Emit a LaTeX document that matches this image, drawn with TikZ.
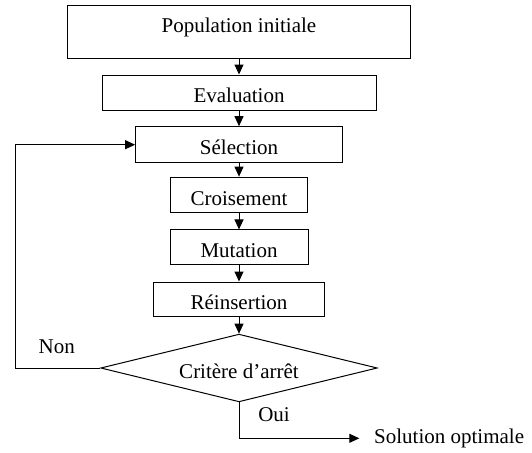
\documentclass[tikz,border=0pt]{standalone}
\usepackage{fontspec}
\setmainfont{Liberation Serif}
\usepackage{tikz}
\usetikzlibrary{arrows.meta,shapes.geometric}

\begin{document}
\begin{tikzpicture}[
  x=1pt,y=-1pt,
  every node/.style={font=\fontsize{21}{24}\selectfont},
  box/.style={rectangle,draw,line width=1pt,inner sep=0pt,text height=20pt,text depth=0pt},
  test/.style={diamond,draw,line width=1pt,aspect=4,inner sep=1pt,text height=20pt,text depth=0pt,minimum width=276.6pt,minimum height=67.7pt},
  lbl/.style={inner sep=0pt,text height=14pt,text depth=4pt},
  arr/.style={-{Triangle[length=10pt,width=9pt]},line width=1pt}
]
\useasboundingbox (0,0) rectangle (532,452);
\node[box,minimum width=343.3pt,minimum height=52.6pt,text height=14pt,text depth=12pt] (pop) at (239,32) {Population initiale};
\node[box,minimum width=274pt,minimum height=35pt] (eval) at (239,92.5) {Evaluation};
\node[box,minimum width=206.7pt,minimum height=36pt] (sel) at (239,144.7) {Sélection};
\node[box,minimum width=137.7pt,minimum height=35.7pt] (crois) at (239,195) {Croisement};
\node[box,minimum width=138pt,minimum height=34.7pt] (mut) at (239,247.3) {Mutation};
\node[box,minimum width=171.7pt,minimum height=34pt] (reins) at (239,299) {Réinsertion};
\node[test] (crit) at (239,368) {Critère d’arrêt};
\node[lbl,anchor=base] (non) at (56.7,353) {Non};
\node[lbl,anchor=base] (oui) at (274,421.7) {Oui};
\node[lbl,anchor=base west,inner xsep=14.7pt] (sol) at (359.3,443.3) {Solution optimale};
\coordinate (back) at (15,368);
\foreach \u/\v in {pop/eval,eval/sel,sel/crois,crois/mut,mut/reins,reins/crit} \draw[arr] (\u.south) -- (\v.north);
\draw[arr] (crit.west) -- (back) |- (sel.west);
\draw[arr] (crit.south) |- (sol.west);
\end{tikzpicture}
\end{document}
